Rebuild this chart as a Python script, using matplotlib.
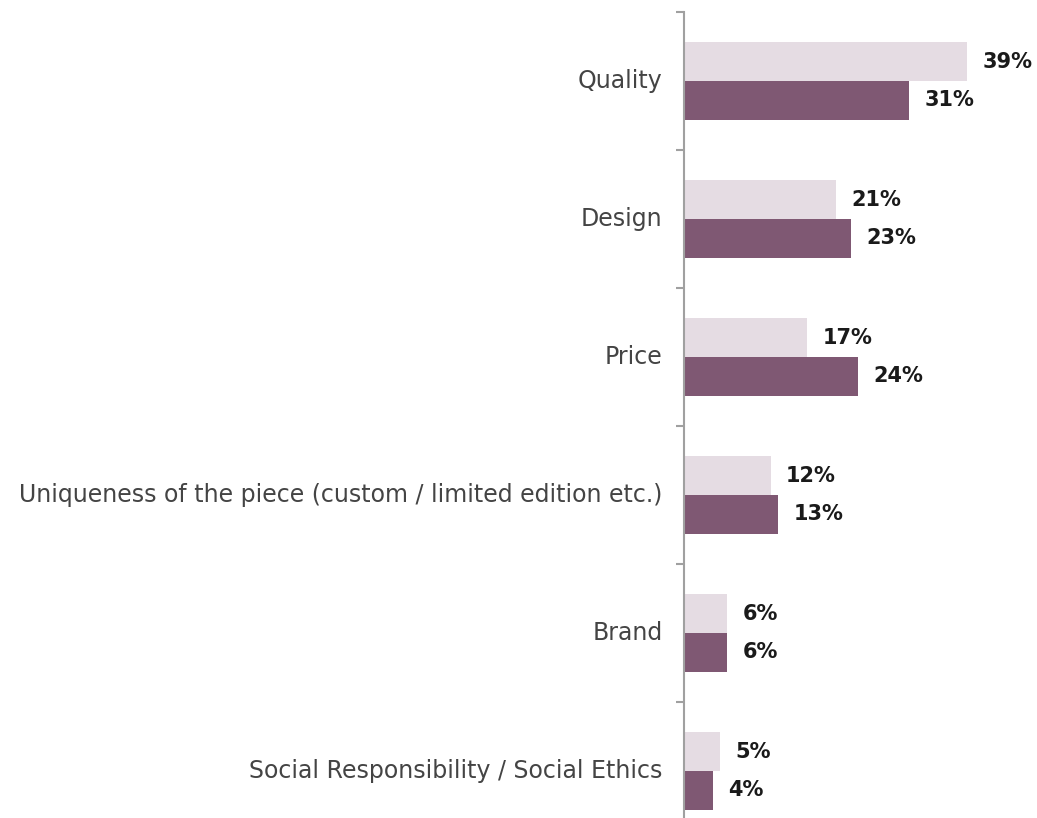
import matplotlib.pyplot as plt
import numpy as np

categories = ["Quality", "Design", "Price",
              "Uniqueness of the piece (custom / limited edition etc.)",
              "Brand", "Social Responsibility / Social Ethics"]
light_vals = [39, 21, 17, 12, 6, 5]
dark_vals = [31, 23, 24, 13, 6, 4]

light_col = "#e5dce3"
dark_col = "#7f5873"

W, H = 1037, 818
fig = plt.figure(figsize=(W / 100, H / 100), dpi=100)
# axis line sits at x=683px, top at 12px, each category band 138px tall
band = 138
top = 12
ax = fig.add_axes([683.5 / W, (H - top - band * len(categories)) / H,
                   (W - 683.5) / W, band * len(categories) / H])

y = np.arange(len(categories))
h = 39 / band
ax.barh(y - h / 2, light_vals, height=h, color=light_col)
ax.barh(y + h / 2, dark_vals, height=h, color=dark_col)

val_font = dict(fontsize=15, fontweight="bold", family="DejaVu Sans", color="#1a1a1a")
for yi, lv, dv in zip(y, light_vals, dark_vals):
    ax.annotate(f"{lv}%", (lv, yi - h / 2), xytext=(11, 0), textcoords="offset points",
                va="center", ha="left", **val_font)
    ax.annotate(f"{dv}%", (dv, yi + h / 2), xytext=(11, 0), textcoords="offset points",
                va="center", ha="left", **val_font)

ax.set_xlim(0, (W - 683.5) / 7.28)
ax.set_ylim(len(categories) - 0.5, -0.5)

for s in ["top", "right", "bottom"]:
    ax.spines[s].set_visible(False)
ax.spines["left"].set_color("#a0a0a0")
ax.spines["left"].set_linewidth(1.5)

ax.set_xticks([])
ax.set_yticks(np.arange(len(categories) + 1) - 0.5)
ax.set_yticklabels([])
ax.tick_params(axis="y", which="major", length=6, width=1.5, color="#a0a0a0")
ax.set_yticks(y, minor=True)
ax.set_yticklabels(categories, minor=True, fontsize=17, family="DejaVu Sans",
                   color="#444444", va="center")
ax.tick_params(axis="y", which="minor", length=0, pad=15)

fig.savefig("out.png", dpi=100)
